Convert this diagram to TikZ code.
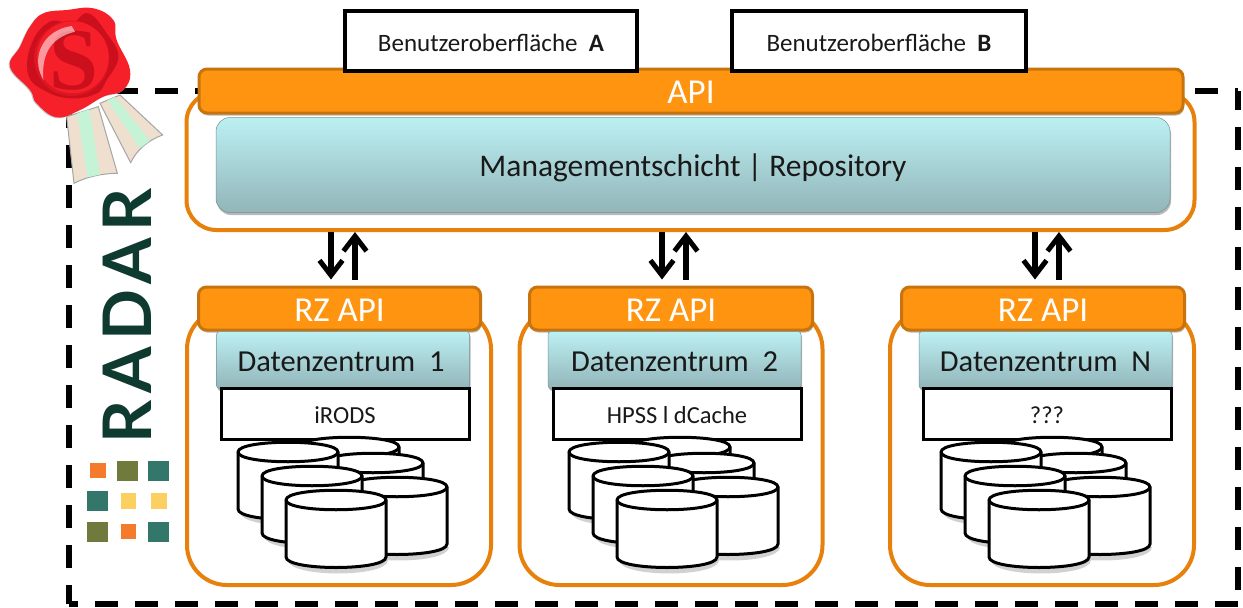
\documentclass[tikz,border=0pt]{standalone}
\usepackage{fontspec}
\setmainfont{Carlito}
\newfontfamily\radarfont[LetterSpace=10]{Lato}
\newfontfamily\sealfont{Liberation Serif}
\usetikzlibrary{arrows.meta,shadows}
\definecolor{frameor}{HTML}{E8800C}
\definecolor{barfill}{HTML}{FF9410}
\definecolor{barline}{HTML}{C8740E}
\definecolor{teal1}{HTML}{BCF0F3}
\definecolor{teal2}{HTML}{92B5B9}
\definecolor{radarcol}{HTML}{0E3A30}
\definecolor{sqor}{HTML}{F47A2C}
\definecolor{sqol}{HTML}{6F7A3C}
\definecolor{sqte}{HTML}{33776A}
\definecolor{sqye}{HTML}{FBCF60}
\definecolor{ribbon}{HTML}{EEDFCE}
\definecolor{ribbongreen}{HTML}{C5F3D6}
\definecolor{waxred}{HTML}{F5202A}
\definecolor{waxdark}{HTML}{CC0F1C}
\newcommand{\lowered}[2]{\raisebox{-#1pt}[\height][\depth]{#2}}
\tikzset{
  softshadow/.style={drop shadow={shadow xshift=1pt,shadow yshift=-2.5pt,opacity=.28,fill=black}},
  framebox/.style={draw=frameor,line width=4pt,rounded corners=#1,fill=white,inner sep=0pt},
  apibar/.style={draw=barline,line width=3pt,fill=barfill,rounded corners=8pt,text=white,inner sep=0pt,softshadow,font=\fontsize{35}{40}\selectfont},
  tealbox/.style={top color=teal1,bottom color=teal2,draw=teal2!80!black,line width=.5pt,inner sep=0pt,softshadow,text=black!90},
  whitebox/.style={draw=black,line width=3pt,fill=white,inner sep=0pt,text=black!90,font=\fontsize{24.5}{28}\selectfont},
  uibox/.style={draw=black,line width=3.5pt,fill=white,inner sep=0pt,text=black!90,font=\fontsize{25}{30}\selectfont},
  barbtip/.style={-{Straight Barb[length=15pt,width=23pt,line width=5pt]}},
  dualarrow/.style={line width=5.5pt,barbtip},
  dash edge/.style={line width=5.5pt,black,dash pattern=on 23pt off 17pt,dash phase=#1},
  drum/.style={draw=black,line width=3pt,fill=white},
  sq/.style={fill=#1,draw=none}
}
% one storage cylinder: centre x, y of top ellipse
\newcommand{\drumat}[2]{%
  \fill[black,opacity=.18] (#1-48,#2+60) .. controls (#1-48,#2+78) and (#1+52,#2+78) .. (#1+52,#2+60) -- cycle;
  \path[drum] (#1-50,#2) -- (#1-50,#2+57) .. controls (#1-50,#2+71) and (#1+50,#2+71) .. (#1+50,#2+57) -- (#1+50,#2)
     .. controls (#1+50,#2-13) and (#1-50,#2-13) .. (#1-50,#2) -- cycle;
  \draw[line width=3pt,black] (#1-50,#2) .. controls (#1-50,#2+13) and (#1+50,#2+13) .. (#1+50,#2);
}
\newcommand{\drumgroup}[1]{%
  \drumat{349+#1}{447}\drumat{373+#1}{463}\drumat{397+#1}{487}%
  \drumat{288+#1}{452}\drumat{312+#1}{476}\drumat{336+#1}{500}%
}
\begin{document}
\begin{tikzpicture}[x=1pt,y=-1pt]
\useasboundingbox (0,0) rectangle (1243,608);
\fill[white] (0,0) rectangle (1243,608);
% outer dashed boundary
\draw[dash edge=34pt] (69,91) -- (1238,91);
\draw[dash edge=26pt] (69,91) -- (69,604);
\draw[dash edge=14pt] (69,604) -- (1238,604);
\draw[dash edge=4pt] (1238,91) -- (1238,604);
% seal
\begin{scope}[x=.3333pt,y=-.3333pt]
  \draw[fill=ribbon,draw=gray!70,line width=1pt] (200,350) -- (295,320) -- (352,520) .. controls (310,520) and (260,530) .. (222,550) -- cycle;
  \fill[ribbongreen] (232,340) -- (268,328) -- (300,524) -- (262,532) -- cycle;
  \draw[fill=ribbon,draw=gray!70,line width=1pt] (300,310) -- (360,285) -- (488,405) .. controls (445,420) and (410,450) .. (392,488) -- cycle;
  \fill[ribbongreen] (322,301) -- (345,291) -- (450,422) -- (420,445) -- cycle;
  \fill[gray!45,shift={(-3,2)}] plot[smooth cycle,tension=.7] coordinates {(130,40)(200,30)(280,25)(340,60)(350,120)(390,210)(370,270)(310,290)(240,330)(170,352)(110,310)(90,270)(30,200)(60,140)(90,80)};
  \fill[waxred] plot[smooth cycle,tension=.7] coordinates {(130,40)(200,30)(280,25)(340,60)(350,120)(390,210)(370,270)(310,290)(240,330)(170,352)(110,310)(90,270)(30,200)(60,140)(90,80)};
  \fill[waxdark] plot[smooth cycle,tension=.7] coordinates {(150,65)(215,70)(265,40)(320,100)(355,170)(320,240)(290,280)(215,295)(140,275)(85,225)(95,130)};
  \fill[waxdark!60!waxred] (215,175) circle[radius=113];
  \fill[waxred] (218,172) circle[radius=108];
  \node[inner sep=0pt,text=waxdark] (sealS) at (222,182) {\sealfont\bfseries\fontsize{88}{90}\selectfont S};
  \fill[white,opacity=.55] (215,78) .. controls (130,90) and (90,170) .. (130,240) .. controls (125,170) and (145,115) .. (225,95) -- cycle;
\end{scope}
% management frame
\node[framebox=30pt,minimum width=1008pt,minimum height=138pt] (mframe) at (690.5,161) {};
\node[apibar,minimum width=984pt,minimum height=44pt] (api) at (691,91) {\lowered{1}{API}};
\node[tealbox,rounded corners=14pt,minimum width=954pt,minimum height=95pt,font=\fontsize{31.5}{36}\selectfont] (mgmt) at (693,165) {\lowered{3}{Managementschicht\ |\ Repository}};
% Benutzeroberflaechen
\node[uibox,minimum width=292pt,minimum height=60pt] (uiA) at (491,41) {\lowered{2}{Benutzeroberfläche\ \ \textbf{A}}};
\node[uibox,minimum width=294pt,minimum height=60pt] (uiB) at (879,41) {\lowered{2}{Benutzeroberfläche\ \ \textbf{B}}};
% data centres
\node[framebox=40pt,minimum width=304pt,minimum height=276pt] (f1) at (339,447) {};
\node[framebox=40pt,minimum width=303pt,minimum height=276pt] (f2) at (671,447) {};
\node[framebox=40pt,minimum width=304pt,minimum height=276pt] (f3) at (1042,447) {};
\node[apibar,minimum width=282pt,minimum height=43pt] (rz1) at (339.5,308.5) {\lowered{2}{RZ API}};
\node[apibar,minimum width=283pt,minimum height=43pt] (rz2) at (671,308.5) {\lowered{2}{RZ API}};
\node[apibar,minimum width=283pt,minimum height=43pt] (rz3) at (1043,308.5) {\lowered{2}{RZ API}};
\tikzset{dcteal/.style={tealbox,rounded corners=3pt,minimum height=57pt,minimum width=253pt,font=\fontsize{30.5}{35}\selectfont}}
\node[dcteal] (d1) at (343,360) {\lowered{2}{Datenzentrum\ \ 1}\hspace*{4pt}};
\node[dcteal] (d2) at (674.5,360) {\lowered{2}{Datenzentrum\ \ 2}};
\node[dcteal] (d3) at (1045.5,360) {\lowered{2}{Datenzentrum\ \ N}};
\node[whitebox,minimum width=248pt,minimum height=51pt] (s1) at (345,414) {\lowered{1}{iRODS}};
\node[whitebox,minimum width=248pt,minimum height=51pt] (s2) at (677,414) {\lowered{1}{HPSS l dCache}};
\node[whitebox,minimum width=248pt,minimum height=51pt] (s3) at (1047,414) {\lowered{1}{???}};
% storage
\drumgroup{0}
\drumgroup{331}
\drumgroup{703}
% arrows
\foreach \xd/\xu/\rz in {331/355/rz1,662/686/rz2,1035/1059/rz3}{
  \coordinate (dn) at (\xd,0);
  \coordinate (up) at (\xu,0);
  \draw[dualarrow,shorten >=6pt] (mframe.south -| dn) -- (\rz.north -| dn);
  \draw[dualarrow,shorten <=6pt] (\rz.north -| up) -- (mframe.south -| up);
}
% RADAR word
\node[rotate=90,inner sep=0pt,text=radarcol,anchor=center,font=\radarfont\bfseries\fontsize{67}{70}\selectfont] (radar) at (127.5,316) {RADAR};
% coloured squares
\fill[sq=sqor] (90,463) rectangle (106,478);
\fill[sq=sqol] (117,461) rectangle (138,481);
\fill[sq=sqte] (148,461) rectangle (169,481);
\fill[sq=sqte] (87,491) rectangle (108,511);
\fill[sq=sqye] (121,493) rectangle (136,509);
\fill[sq=sqye] (151,493) rectangle (167,509);
\fill[sq=sqol] (87,522) rectangle (108,542);
\fill[sq=sqor] (121,524) rectangle (136,539);
\fill[sq=sqte] (148,522) rectangle (169,542);
\end{tikzpicture}
\end{document}
